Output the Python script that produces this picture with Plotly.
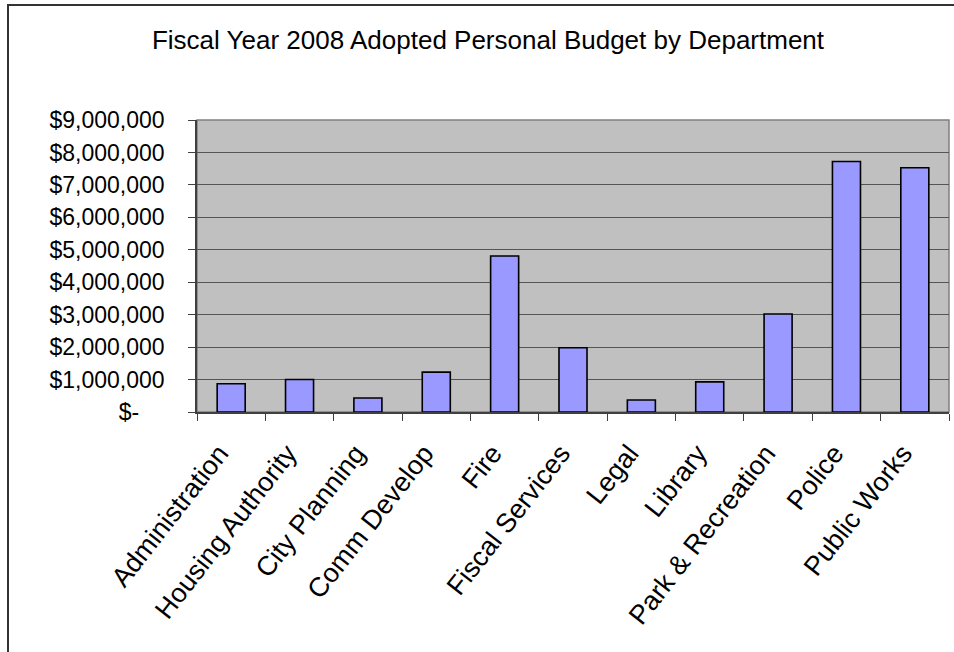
import plotly.graph_objects as go

departments = ["Administration", "Housing Authority", "City Planning", "Comm Develop",
               "Fire", "Fiscal Services", "Legal", "Library", "Park & Recreation",
               "Police", "Public Works"]
budget = [870000, 1000000, 430000, 1230000, 4810000, 1980000, 370000, 930000,
          3020000, 7720000, 7530000]
y_tick_values = [0, 1000000, 2000000, 3000000, 4000000, 5000000, 6000000, 7000000, 8000000, 9000000]
y_tick_labels = ["$-" + "\u00a0" * 4, "$1,000,000", "$2,000,000", "$3,000,000", "$4,000,000",
                 "$5,000,000", "$6,000,000", "$7,000,000", "$8,000,000", "$9,000,000"]
title_text = "Fiscal Year 2008 Adopted Personal Budget by Department"

W, H = 954, 652
L, R, T, B = 197, 5, 120, 240
FONT = "Liberation Sans, Arial, sans-serif"

fig = go.Figure(go.Bar(
    x=departments, y=budget,
    marker=dict(color="#9999FF", line=dict(color="#000000", width=1.6)),
))

fig.update_layout(
    width=W, height=H,
    margin=dict(l=L, r=R, t=T, b=B, pad=0),
    paper_bgcolor="white", plot_bgcolor="#C0C0C0",
    bargap=0.59, showlegend=False,
    font=dict(family=FONT, color="black"),
    title=dict(text=title_text, x=488 / W, xanchor="center", xref="container",
               y=1 - 40 / H, yanchor="middle", yref="container",
               font=dict(family=FONT, size=26, color="black")),
)
fig.update_yaxes(
    range=[0, 9000000], tickvals=y_tick_values, ticktext=y_tick_labels,
    showgrid=True, gridcolor="#555555", gridwidth=1,
    ticks="outside", ticklen=7, tickcolor="#404040", tickwidth=1,
    showline=True, linecolor="#404040", linewidth=1.5,
    tickfont=dict(family=FONT, size=23, color="black"),
    ticklabelstandoff=19, zeroline=False, fixedrange=True, automargin=False,
)
fig.update_xaxes(
    tickangle=-52, tickson="boundaries",
    ticks="outside", ticklen=7, tickcolor="#404040", tickwidth=1,
    showline=True, linecolor="#404040", linewidth=1.5,
    tickfont=dict(family=FONT, size=27, color="black"),
    ticklabelstandoff=13, ticklabelshift=-12,
    showgrid=False, fixedrange=True, automargin=False,
)
# plot area border (top/right gray)
fig.add_shape(type="rect", xref="x domain", yref="y domain", x0=0, x1=1, y0=0, y1=1,
              line=dict(color="#808080", width=1.5), layer="below")
# chart area border (extends past the bottom/right edge)
fig.add_shape(type="rect", xref="paper", yref="paper",
              x0=(8 - L) / (W - L - R), x1=1.2,
              y0=-1, y1=1 + (T - 5) / (H - T - B),
              line=dict(color="#333333", width=2))

fig.write_html("out.html", config={"displayModeBar": False},
               post_script="document.body.style.margin='0';document.body.style.overflow='hidden';")
